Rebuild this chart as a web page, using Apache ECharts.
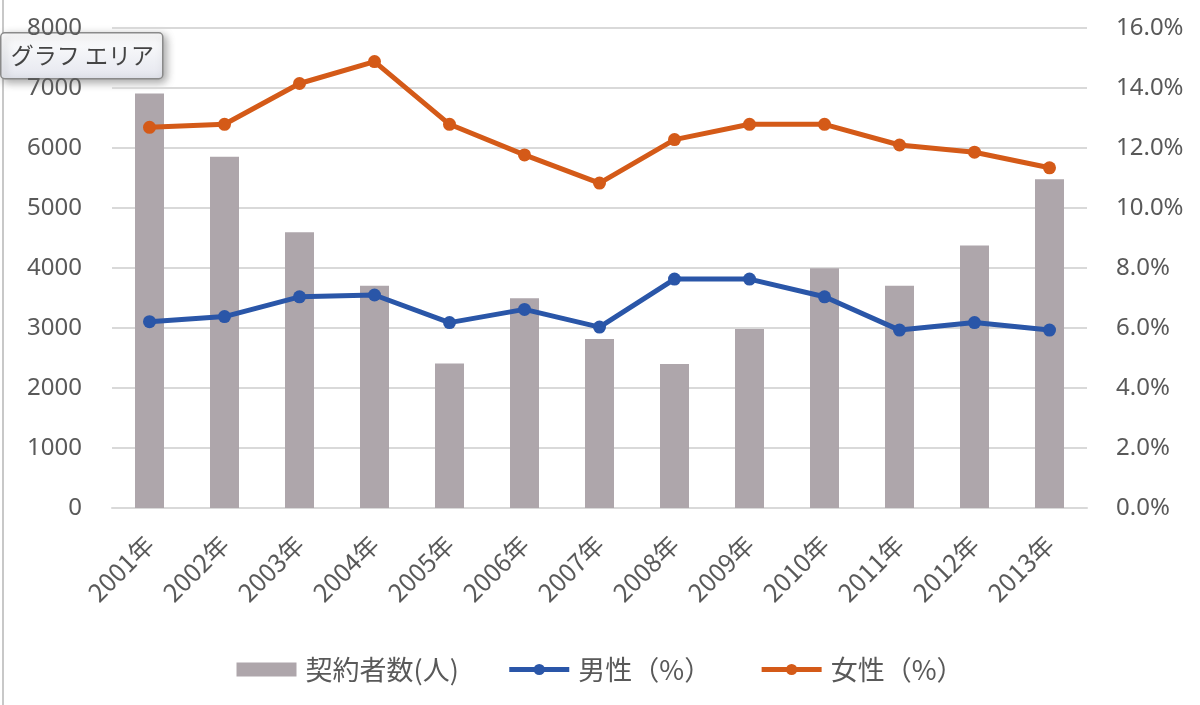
<!DOCTYPE html>
<html>
<head>
<meta charset="utf-8">
<script src="https://cdn.jsdelivr.net/npm/echarts@6/dist/echarts.min.js"></script>
<style>
  html, body { margin: 0; padding: 0; background: #fff; }
  #main { width: 1200px; height: 705px; }
</style>
</head>
<body>
<div id="main"></div>
<script>
var years = ['2001年', '2002年', '2003年', '2004年', '2005年', '2006年', '2007年',
    '2008年', '2009年', '2010年', '2011年', '2012年', '2013年'];
var keiyaku = [6910, 5855, 4595, 3705, 2410, 3495, 2815, 2400, 2985, 3995, 3705, 4375, 5480];
var dansei = [6.21, 6.38, 7.04, 7.1, 6.18, 6.62, 6.03, 7.63, 7.63, 7.04, 5.93, 6.18, 5.93];
var josei = [12.69, 12.79, 14.15, 14.88, 12.79, 11.77, 10.83, 12.28, 12.79, 12.79, 12.1, 11.86, 11.34];
var names = ['契約者数(人)', '男性（%）', '女性（%）'];

var font = "'Noto Sans', 'Noto Sans CJK JP', sans-serif";
var cjk = "'Noto Sans CJK JP', sans-serif";
var blue = '#2a56a8';
var orange = '#d45a18';

var chart = echarts.init(document.getElementById('main'));
var option = {
    backgroundColor: '#ffffff',
    animation: false,
    textStyle: { fontFamily: font },
    grid: { left: 112, right: 113, top: 28, bottom: 197, containLabel: false },
    legend: {
        bottom: 17,
        left: 'center',
        itemWidth: 60,
        itemHeight: 14,
        itemGap: 48,
        textStyle: { fontSize: 27, color: '#595959', fontFamily: cjk, padding: [0, 0, 0, 4] },
        data: [
            { name: names[0], icon: 'rect' },
            { name: names[1], lineStyle: { width: 5 } },
            { name: names[2], lineStyle: { width: 5 } }
        ]
    },
    xAxis: {
        type: 'category',
        data: years,
        axisTick: { show: false },
        axisLine: { lineStyle: { color: '#d9d9d9', width: 2 } },
        axisLabel: {
            rotate: 45,
            margin: 32,
            fontSize: 25,
            color: '#595959',
            fontFamily: cjk
        }
    },
    yAxis: [
        {
            type: 'value',
            min: 0, max: 8000, interval: 1000,
            axisLine: { show: false },
            axisTick: { show: false },
            splitLine: { lineStyle: { color: '#d9d9d9', width: 2 } },
            axisLabel: {
                fontSize: 24, color: '#595959', margin: 30,
                formatter: function (v) { return String(v); }
            }
        },
        {
            type: 'value',
            min: 0, max: 16, interval: 2,
            axisLine: { show: false },
            axisTick: { show: false },
            splitLine: { show: false },
            axisLabel: {
                fontSize: 24, color: '#595959', margin: 29,
                formatter: function (v) { return v.toFixed(1) + '%'; }
            }
        }
    ],
    series: [
        {
            name: names[0],
            type: 'bar',
            yAxisIndex: 0,
            barWidth: 29,
            itemStyle: { color: '#aea6ab' },
            data: keiyaku
        },
        {
            name: names[1],
            type: 'line',
            yAxisIndex: 1,
            symbol: 'circle',
            symbolSize: 13,
            lineStyle: { width: 5, color: blue },
            itemStyle: { color: blue },
            data: dansei
        },
        {
            name: names[2],
            type: 'line',
            yAxisIndex: 1,
            symbol: 'circle',
            symbolSize: 13,
            lineStyle: { width: 5, color: orange },
            itemStyle: { color: orange },
            data: josei
        }
    ],
    graphic: [
        {
            type: 'line',
            shape: { x1: 3, y1: 0, x2: 3, y2: 705 },
            style: { stroke: '#c8c8c8', lineWidth: 2 },
            silent: true
        },
        {
            type: 'group',
            left: 0,
            top: 32,
            z: 100,
            children: [
                {
                    type: 'rect',
                    shape: { x: 0, y: 0, width: 162, height: 46, r: 4 },
                    style: {
                        fill: new echarts.graphic.LinearGradient(0, 0, 0, 1, [
                            { offset: 0, color: '#ffffff' },
                            { offset: 1, color: '#e4e6ee' }
                        ]),
                        stroke: '#8a8a8a',
                        lineWidth: 1.5,
                        shadowBlur: 8,
                        shadowOffsetX: 3,
                        shadowOffsetY: 3,
                        shadowColor: 'rgba(0,0,0,0.35)'
                    }
                },
                {
                    type: 'text',
                    x: 10,
                    y: 23,
                    style: {
                        text: 'グラフ エリア',
                        fontSize: 23,
                        fontFamily: cjk,
                        fill: '#444',
                        verticalAlign: 'middle'
                    }
                }
            ]
        }
    ]
};
chart.setOption(option);
window.onresize = chart.resize;
</script>
</body>
</html>
